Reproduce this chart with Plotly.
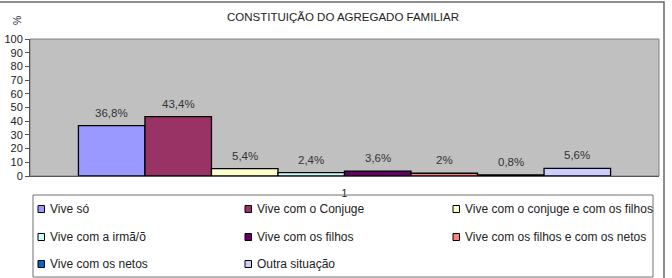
import plotly.graph_objects as go

title = "CONSTITUIÇÃO DO AGREGADO FAMILIAR"
category = ["1"]
series_names = ["Vive só", "Vive com o Conjuge", "Vive com o conjuge e com os filhos",
                "Vive com a irmã/õ", "Vive com os filhos", "Vive com os filhos e com os netos",
                "Vive com os netos", "Outra situação"]
values = [36.8, 43.4, 5.4, 2.4, 3.6, 2.0, 0.8, 5.6]
value_labels = ["36,8%", "43,4%", "5,4%", "2,4%", "3,6%", "2%", "0,8%", "5,6%"]
colors = ["#9999FF", "#993366", "#FFFFCC", "#CCFFFF", "#660066", "#FF8080", "#0066CC", "#CCCCFF"]
y_ticks = list(range(0, 101, 10))

W, H = 672, 278
L, R, T, B = 30, 13, 39, 102
pw, ph = W - L - R, H - T - B
BARGAP = 0.154
FONT = "Arial, Liberation Sans, sans-serif"

fig = go.Figure()
n = len(values)
for i, (name, v, lab, c) in enumerate(zip(series_names, values, value_labels, colors)):
    fig.add_trace(go.Bar(
        x=category, y=[v], name=name,
        marker=dict(color=c, line=dict(color="black", width=1.3)),
        showlegend=False,
    ))

def px_x(x):
    return (x - L) / pw

def px_y(y):
    return (H - B - y) / ph

shapes = [
    dict(type="rect", xref="paper", yref="paper", x0=px_x(-2), x1=px_x(664), y0=px_y(281), y1=px_y(2),
         line=dict(color="#6a6a6a", width=1.5), layer="below"),
    dict(type="rect", xref="paper", yref="paper", x0=px_x(33), x1=px_x(653), y0=px_y(277), y1=px_y(195),
         line=dict(color="#707070", width=1)),
]
annotations = [
    dict(text=title, xref="paper", yref="paper", x=px_x(343), y=px_y(17), showarrow=False,
         font=dict(family=FONT, size=11.5, color="#222222"), xanchor="center", yanchor="middle"),
    dict(text="%", xref="paper", yref="paper", x=px_x(17), y=px_y(21), showarrow=False, textangle=-90,
         font=dict(family=FONT, size=10.5, color="#222222"), xanchor="center", yanchor="middle"),
]
# value labels above bars (positions follow the grouped-bar layout on the category axis)
group_w = 1 - BARGAP
for i, (v, lab) in enumerate(zip(values, value_labels)):
    xc = -group_w / 2 + (i + 0.5) * group_w / n
    annotations.append(dict(text=lab, xref="x", yref="y", x=xc, y=v, showarrow=False,
                            xanchor="center", yanchor="middle", yshift=13,
                            font=dict(family=FONT, size=11.5, color="#333333")))

col_x = [38, 245, 453]
row_y = [209, 237, 264]
for i, (name, c) in enumerate(zip(series_names, colors)):
    cx = col_x[i % 3]
    cy = row_y[i // 3]
    shapes.append(dict(type="rect", xref="paper", yref="paper", x0=px_x(cx), x1=px_x(cx + 6.5),
                       y0=px_y(cy + 3.5), y1=px_y(cy - 3.5), fillcolor=c, line=dict(color="black", width=1)))
    annotations.append(dict(text=name, xref="paper", yref="paper", x=px_x(cx + 10), y=px_y(cy), showarrow=False,
                            xanchor="left", yanchor="middle",
                            font=dict(family=FONT, size=12, color="#222222")))

fig.update_layout(
    width=W, height=H, margin=dict(l=L, r=R, t=T, b=B, autoexpand=False),
    paper_bgcolor="white", plot_bgcolor="#C0C0C0",
    barmode="group", bargap=BARGAP, bargroupgap=0,
    shapes=shapes, annotations=annotations,
    font=dict(family=FONT, size=10, color="#222222"),
)
fig.update_xaxes(type="category", automargin=False, showgrid=False, showline=True, linecolor="#555555",
                 linewidth=1, ticks="outside", ticklen=7, tickcolor="rgba(0,0,0,0)",
                 tickfont=dict(size=10.5))
fig.update_yaxes(range=[0, 100], tickvals=y_ticks, automargin=False, showgrid=False, showline=True,
                 linecolor="#555555", linewidth=1, ticks="outside", ticklen=4, tickcolor="#555555",
                 zeroline=False, tickfont=dict(size=11))
fig.add_shape(type="rect", xref="paper", yref="paper", x0=0, x1=1, y0=0, y1=1,
              line=dict(color="#808080", width=1), layer="below")
fig.write_html("out.html")
